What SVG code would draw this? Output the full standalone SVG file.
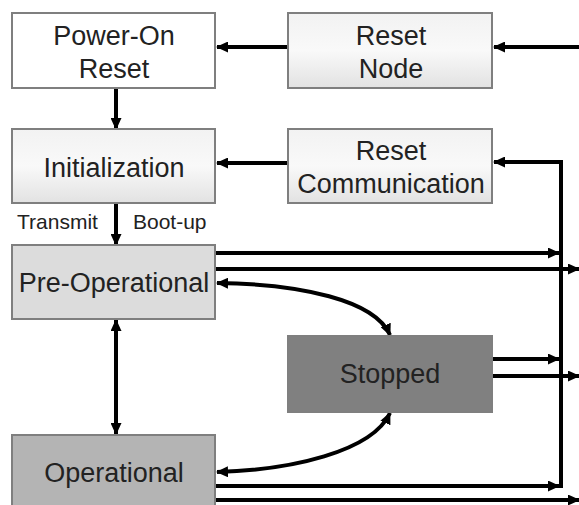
<svg xmlns="http://www.w3.org/2000/svg" width="579" height="505" viewBox="0 0 579 505">
<defs>
<linearGradient id="g" x1="0" y1="0" x2="0" y2="1">
<stop offset="0" stop-color="#f2f2f2"/>
<stop offset="0.5" stop-color="#f9f9f9"/>
<stop offset="1" stop-color="#e2e2e2"/>
</linearGradient>
<marker id="ah" viewBox="0 0 12 11" refX="11" refY="5.5" markerWidth="12" markerHeight="11" markerUnits="userSpaceOnUse" orient="auto-start-reverse">
<path d="M0,0 L12,5.5 L0,11 z" fill="#000"/>
</marker>
</defs>
<style>
.box{stroke:#7f7f7f;stroke-width:2}
.t{font-family:"Liberation Sans",Arial,sans-serif;font-size:27px;fill:#222;text-anchor:middle}
.s{font-family:"Liberation Sans",Arial,sans-serif;font-size:21px;fill:#222}
.c{fill:none;stroke:#000;stroke-width:4}
.a{marker-end:url(#ah)}
.b{marker-start:url(#ah);marker-end:url(#ah)}
</style>
<g id="connectors">
<path class="c a" d="M579,47 L494,47"/>
<path class="c a" d="M288,47 L217,47"/>
<path class="c a" d="M116,89 L116,129"/>
<path class="c a" d="M288,163 L217,163"/>
<path class="c a" d="M561,488 L561,162 L494,162"/>
<path class="c a" d="M116,204 L116,245"/>
<path class="c a" d="M216,253 L559,253"/>
<path class="c a" d="M216,269 L579,269"/>
<path class="c b" d="M217,283 C300,284 375,300 390,335"/>
<path class="c b" d="M116,320 L116,434"/>
<path class="c a" d="M493,359 L559,359"/>
<path class="c a" d="M493,376 L579,376"/>
<path class="c b" d="M217,472 C290,470 372,452 390,413"/>
<path class="c a" d="M216,486 L559,486"/>
<path class="c a" d="M216,500 L579,500"/>
</g>
<g id="power-on-reset">
<rect class="box" x="12" y="13" width="203" height="75" fill="#fff"/>
<text class="t" x="114" y="45">Power-On</text>
<text class="t" x="114" y="78">Reset</text>
</g>
<g id="reset-node">
<rect class="box" x="288" y="13" width="204" height="75" fill="url(#g)"/>
<text class="t" x="391" y="45">Reset</text>
<text class="t" x="391" y="78">Node</text>
</g>
<g id="initialization">
<rect class="box" x="12" y="129" width="203" height="74" fill="url(#g)"/>
<text class="t" x="114" y="177">Initialization</text>
</g>
<g id="reset-communication">
<rect class="box" x="288" y="129" width="204" height="74" fill="url(#g)"/>
<text class="t" x="391" y="160">Reset</text>
<text class="t" x="391" y="193">Communication</text>
</g>
<g id="boot-up-labels">
<text class="s" x="17" y="229">Transmit</text>
<text class="s" x="133" y="229">Boot-up</text>
</g>
<g id="pre-operational">
<rect class="box" x="12" y="245" width="203" height="74" fill="#dcdcdc"/>
<text class="t" x="114" y="292">Pre-Operational</text>
</g>
<g id="stopped">
<rect class="box" x="288" y="336" width="204" height="76" fill="#808080"/>
<text class="t" x="390" y="383">Stopped</text>
</g>
<g id="operational">
<rect class="box" x="12" y="435" width="203" height="80" fill="#b4b4b4"/>
<text class="t" x="114" y="482">Operational</text>
</g>
</svg>
